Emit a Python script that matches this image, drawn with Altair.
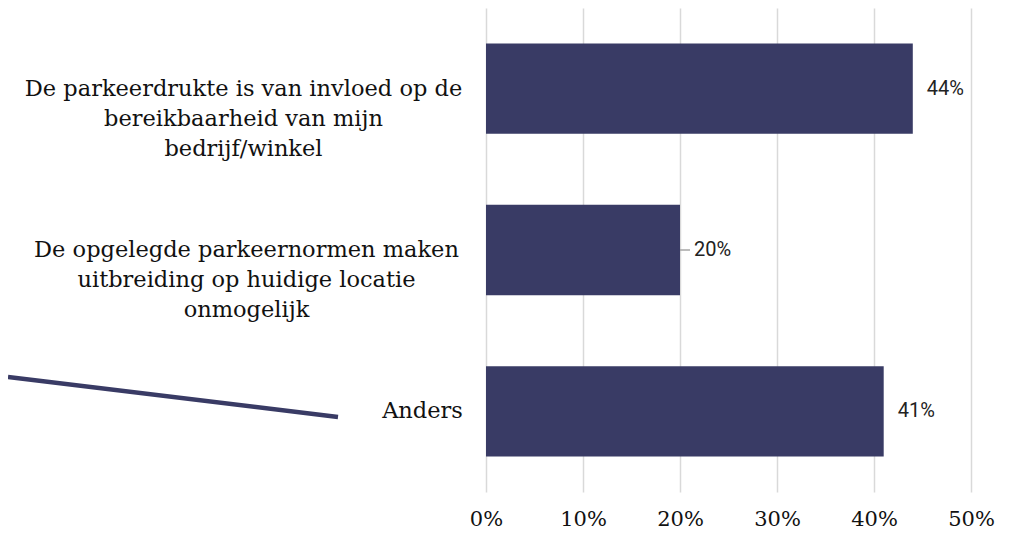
import altair as alt
import pandas as pd

categories = [
    "De parkeerdrukte is van invloed op de|bereikbaarheid van mijn|bedrijf/winkel",
    "De opgelegde parkeernormen maken|uitbreiding op huidige locatie|onmogelijk",
    "Anders",
]
values = [0.44, 0.20, 0.41]
value_labels = ["44%", "20%", "41%"]
leader = [False, True, False]

df = pd.DataFrame({"cat": categories, "value": values, "label": value_labels, "leader": leader})

NAVY = "#393b65"

y_enc = alt.Y(
    "cat:N",
    sort=categories,
    scale=alt.Scale(paddingInner=0.44, paddingOuter=0.22),
    axis=alt.Axis(
        title=None,
        domain=False,
        ticks=False,
        labelExpr="split(datum.label, '|')",
        labelFont="DejaVu Serif",
        labelFontSize=22.5,
        labelColor="#111111",
        labelAlign="center",
        labelBaseline="middle",
        labelLineHeight=30,
        labelPadding={"condition": [
            {"test": "datum.value == 'Anders'", "value": 64},
            {"test": "indexof(datum.value, 'opgelegde') >= 0", "value": 240},
        ], "value": 243},
        labelLimit=700,
    ),
)

x_enc = alt.X(
    "value:Q",
    scale=alt.Scale(domain=[0, 0.5], nice=False),
    axis=alt.Axis(
        title=None,
        format=".0%",
        values=[0, 0.1, 0.2, 0.3, 0.4, 0.5],
        domain=False,
        ticks=False,
        grid=True,
        gridColor="#d9d9d9",
        gridWidth=1.5,
        labelFont="DejaVu Serif",
        labelFontSize=21,
        labelColor="#111111",
        labelPadding=16,
        labelFlush=False,
    ),
)

bars = alt.Chart(df).mark_bar(color=NAVY).encode(x=x_enc, y=y_enc)

text = alt.Chart(df).mark_text(
    align="left", baseline="middle", dx=14, font="Roboto", fontSize=20, color="#222222"
).encode(
    x="value:Q",
    y=alt.Y("cat:N", sort=categories),
    text="label:N",
)

leader_line = alt.Chart(df).transform_filter("datum.leader").mark_rule(
    color="#a6a6a6", strokeWidth=1.5, x2Offset=10
).encode(
    x="value:Q",
    x2=alt.X2("value:Q"),
    y=alt.Y("cat:N", sort=categories, bandPosition=0.5),
)

pointer = alt.Chart(df).transform_filter("datum.cat == 'Anders'").mark_rule(
    color=NAVY, strokeWidth=4.5
).encode(
    x=alt.value(-478),
    x2=alt.value(-148),
    y=alt.value(369),
    y2=alt.value(409),
)

chart = alt.layer(bars, leader_line, text, pointer).properties(
    width=485,
    height=484,
    autosize=alt.AutoSizeParams(type="none"),
    padding={"left": 478, "top": 0, "right": 30, "bottom": 39},
).configure_view(stroke=None)

chart.save("out.html", embed_options={"renderer": "svg", "actions": False})
